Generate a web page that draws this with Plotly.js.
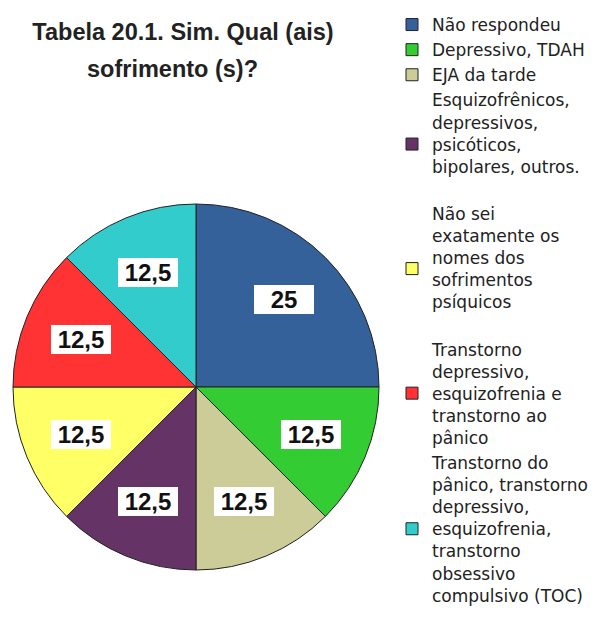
<!DOCTYPE html>
<html>
<head>
<meta charset="utf-8">
<script src="https://cdn.plot.ly/plotly-3.0.1.min.js"></script>
<style>html,body{margin:0;padding:0;background:#fff;}#chart{width:603px;height:617px;}</style>
</head>
<body>
<div id="chart"></div>
<script>
var categories = [
  "Não respondeu",
  "Depressivo, TDAH",
  "EJA da tarde",
  "Esquizofrênicos,<br>depressivos,<br>psicóticos,<br>bipolares, outros.<br> ",
  "Não sei<br>exatamente os<br>nomes dos<br>sofrimentos<br>psíquicos<br> ",
  "Transtorno<br>depressivo,<br>esquizofrenia e<br>transtorno ao<br>pânico",
  "Transtorno do<br>pânico, transtorno<br>depressivo,<br>esquizofrenia,<br>transtorno<br>obsessivo<br>compulsivo (TOC)"
];
var values = [25, 12.5, 12.5, 12.5, 12.5, 12.5, 12.5];
var colors = ["#34619a", "#33cc33", "#cccc99", "#663366", "#ffff66", "#ff3333", "#33cccc"];

var W = 603, H = 617;
var cx = 196, cy = 387, R = 183;
var labelFrac = 0.68;
var FONT = "Liberation Sans, Arial, sans-serif";

var total = values.reduce(function(a, b){ return a + b; }, 0);
var annotations = [];
var cum = 0;
values.forEach(function(v){
  var mid = (cum + v / 2) / total * 2 * Math.PI;
  cum += v;
  var px = cx + R * labelFrac * Math.sin(mid);
  var py = cy - R * labelFrac * Math.cos(mid);
  annotations.push({
    x: px / W, y: (H - py) / H, xref: "paper", yref: "paper",
    xanchor: "center", yanchor: "middle",
    text: "<b>" + String(v).replace(".", ",") + "</b>",
    showarrow: false,
    font: {family: FONT, size: 24, color: "#111"},
    bgcolor: "#ffffff", borderwidth: 0, borderpad: 1,
    width: 58, height: 27
  });
});

annotations.push({
  x: 172 / W, y: 1 - 69 / H, xref: "paper", yref: "paper",
  xanchor: "center", yanchor: "middle", showarrow: false,
  text: "<b>sofrimento (s)?</b>",
  font: {family: FONT, size: 23.5, color: "#222"}
});

var trace = {
  type: "pie",
  labels: categories,
  values: values,
  sort: false,
  direction: "clockwise",
  rotation: 0,
  textinfo: "none",
  hoverinfo: "label+value",
  marker: {colors: colors, line: {color: "#222", width: 1}},
  domain: {x: [(cx - R) / W, (cx + R) / W], y: [(H - cy - R) / H, (H - cy + R) / H]}
};

var layout = {
  width: W, height: H,
  margin: {l: 0, r: 0, t: 0, b: 0},
  paper_bgcolor: "#ffffff",
  title: {
    text: "<b>Tabela 20.1. Sim. Qual (ais)</b>",
    x: 183 / W, xanchor: "center", xref: "paper",
    y: 1 - 32 / H, yanchor: "middle", yref: "container",
    font: {family: FONT, size: 23.5, color: "#222"}
  },
  showlegend: true,
  legend: {
    x: 392 / W, y: 1 - 7 / H, xanchor: "left", yanchor: "top",
    font: {family: "DejaVu Sans, sans-serif", size: 17, color: "#222"},
    valign: "middle", bgcolor: "rgba(0,0,0,0)"
  },
  annotations: annotations
};

Plotly.newPlot("chart", [trace], layout, {displayModeBar: false, staticPlot: true});
</script>
</body>
</html>
